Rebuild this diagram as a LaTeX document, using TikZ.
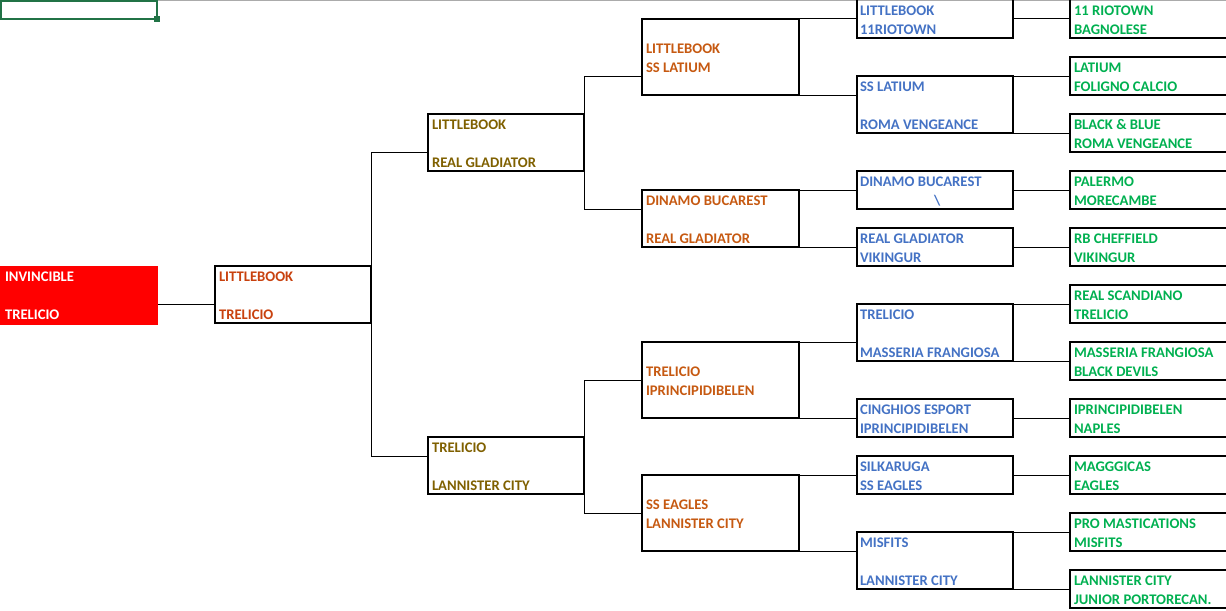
\documentclass[tikz,border=0pt]{standalone}
\usepackage{fontspec}
\setmainfont{Carlito}
\usetikzlibrary{calc}
\definecolor{cR}{HTML}{FF0000}
\definecolor{cLa}{HTML}{C8410E}
\definecolor{cLb}{HTML}{7F6000}
\definecolor{cLc}{HTML}{C65911}
\definecolor{cLd}{HTML}{4472C4}
\definecolor{cLe}{HTML}{00B050}
\definecolor{selgreen}{HTML}{217346}
\definecolor{gridgray}{HTML}{ABABAB}
\newcommand{\teambox}[5]{\node[tbox,minimum width=#4*0.75pt,minimum height=#5*0.75pt] (#1) at (#2,#3) {};}
\newcommand{\tline}[5]{\node[tlabel,text=#5] (#1) at (#2,#3) {#4};}
\begin{document}
\begin{tikzpicture}[x=0.75pt,y=-0.75pt,
  tbox/.style={draw=black,line width=1.5pt,anchor=north west,inner sep=0pt,outer sep=0pt},
  tlabel/.style={anchor=base west,inner sep=0pt,outer sep=0pt,font=\fontsize{11}{13}\selectfont\bfseries},
  conn/.style={draw=black,line width=0.75pt}]
\useasboundingbox (0,0) rectangle (1226,610);
\clip (0,0) rectangle (1226,610);
\draw[gridgray,line width=0.75pt] (158,0.5) -- (1226,0.5);
\draw[selgreen,line width=1.5pt] (1,1) rectangle (157,19.5);
\fill[selgreen] (154,16.5) rectangle (160,22);
% red box
\node[tbox,draw=none,fill=cR,minimum width=158*0.75pt,minimum height=59*0.75pt] (R) at (0,265.5) {};
% boxes
\teambox{L1}{215}{266}{156}{57}
\teambox{L2a}{428}{114}{156}{57}
\teambox{L2b}{428}{437}{156}{57}
\teambox{L3a}{642}{19}{157}{76}
\teambox{L3b}{642}{190}{157}{57}
\teambox{L3c}{642}{342}{157}{76}
\teambox{L3d}{642}{475}{157}{76}
\teambox{L4a}{857}{-3}{156}{41}
\teambox{L4b}{857}{76}{156}{57}
\teambox{L4c}{857}{171}{156}{38}
\teambox{L4d}{857}{228}{156}{38}
\teambox{L4e}{857}{304}{156}{57}
\teambox{L4f}{857}{399}{156}{38}
\teambox{L4g}{857}{456}{156}{38}
\teambox{L4h}{857}{532}{156}{57}
\teambox{L5a}{1070}{-3}{170}{41}
\teambox{L5b}{1070}{57}{170}{38}
\teambox{L5c}{1070}{114}{170}{38}
\teambox{L5d}{1070}{171}{170}{38}
\teambox{L5e}{1070}{228}{170}{38}
\teambox{L5f}{1070}{285}{170}{38}
\teambox{L5g}{1070}{342}{170}{38}
\teambox{L5h}{1070}{399}{170}{38}
\teambox{L5i}{1070}{456}{170}{38}
\teambox{L5j}{1070}{513}{170}{38}
\teambox{L5k}{1070}{570}{170}{38}
% connectors
\path ($(L1.south west)+(0,-19)$) coordinate (j0);
\draw[conn] (j0) -- (j0 -| R.east);
\path ($(L2a.south west)+(0,-19)$) coordinate (j1);
\draw[conn] (j1) -| (L1.east);
\path ($(L2b.north west)+(0,19)$) coordinate (j2);
\draw[conn] (j2) -| (L1.east);
\path ($(L3a.south west)+(0,-19)$) coordinate (j3);
\draw[conn] (j3) -| (L2a.east);
\path ($(L3b.north west)+(0,19)$) coordinate (j4);
\draw[conn] (j4) -| (L2a.east);
\path ($(L3c.south west)+(0,-38)$) coordinate (j5);
\draw[conn] (j5) -| (L2b.east);
\path ($(L3d.north west)+(0,38)$) coordinate (j6);
\draw[conn] (j6) -| (L2b.east);
\draw[conn] (L3a.north east) -- (L3a.north east -| L4a.west);
\draw[conn] (L3a.south east) -- (L3a.south east -| L4b.west);
\draw[conn] (L3b.north east) -- (L3b.north east -| L4c.west);
\draw[conn] (L3b.south east) -- (L3b.south east -| L4d.west);
\draw[conn] (L3c.north east) -- (L3c.north east -| L4e.west);
\draw[conn] (L3c.south east) -- (L3c.south east -| L4f.west);
\draw[conn] (L3d.north east) -- (L3d.north east -| L4g.west);
\draw[conn] (L3d.south east) -- (L3d.south east -| L4h.west);
\path ($(L4a.south east)+(0,-19)$) coordinate (j7);
\draw[conn] (j7) -- (j7 -| L5a.west);
\draw[conn] (L4b.north east) -- (L4b.north east -| L5b.west);
\draw[conn] (L4b.south east) -- (L4b.south east -| L5c.west);
\draw[conn] (L4c.east) -- (L5d.west);
\draw[conn] (L4d.east) -- (L5e.west);
\draw[conn] (L4e.north east) -- (L4e.north east -| L5f.west);
\draw[conn] (L4e.south east) -- (L4e.south east -| L5g.west);
\draw[conn] (L4f.east) -- (L5h.west);
\draw[conn] (L4g.east) -- (L5i.west);
\draw[conn] (L4h.north east) -- (L4h.north east -| L5j.west);
\draw[conn] (L4h.south east) -- (L4h.south east -| L5k.west);
% texts
\tline{tR1}{5}{281.2}{INVINCIBLE}{white}
\tline{tR2}{5}{319.2}{TRELICIO}{white}
\tline{t11}{219}{281.2}{LITTLEBOOK}{cLa}
\tline{t12}{219}{319.2}{TRELICIO}{cLa}
\tline{t2a1}{432}{129.2}{LITTLEBOOK}{cLb}
\tline{t2a2}{432}{167.2}{REAL GLADIATOR}{cLb}
\tline{t2b1}{432}{452.2}{TRELICIO}{cLb}
\tline{t2b2}{432}{490.2}{LANNISTER CITY}{cLb}
\tline{t3a1}{646}{53.2}{LITTLEBOOK}{cLc}
\tline{t3a2}{646}{72.2}{SS LATIUM}{cLc}
\tline{t3b1}{646}{205.2}{DINAMO BUCAREST}{cLc}
\tline{t3b2}{646}{243.2}{REAL GLADIATOR}{cLc}
\tline{t3c1}{646}{376.2}{TRELICIO}{cLc}
\tline{t3c2}{646}{395.2}{IPRINCIPIDIBELEN}{cLc}
\tline{t3d1}{646}{509.2}{SS EAGLES}{cLc}
\tline{t3d2}{646}{528.2}{LANNISTER CITY}{cLc}
\tline{t4a1}{860}{15.2}{LITTLEBOOK}{cLd}
\tline{t4a2}{860}{34.2}{11RIOTOWN}{cLd}
\tline{t4b1}{860}{91.2}{SS LATIUM}{cLd}
\tline{t4b2}{860}{129.2}{ROMA VENGEANCE}{cLd}
\tline{t4c1}{860}{186.2}{DINAMO BUCAREST}{cLd}
\tline{t4c2}{934}{205.2}{\textbackslash}{cLd}
\tline{t4d1}{860}{243.2}{REAL GLADIATOR}{cLd}
\tline{t4d2}{860}{262.2}{VIKINGUR}{cLd}
\tline{t4e1}{860}{319.2}{TRELICIO}{cLd}
\tline{t4e2}{860}{357.2}{MASSERIA FRANGIOSA}{cLd}
\tline{t4f1}{860}{414.2}{CINGHIOS ESPORT}{cLd}
\tline{t4f2}{860}{433.2}{IPRINCIPIDIBELEN}{cLd}
\tline{t4g1}{860}{471.2}{SILKARUGA}{cLd}
\tline{t4g2}{860}{490.2}{SS EAGLES}{cLd}
\tline{t4h1}{860}{547.2}{MISFITS}{cLd}
\tline{t4h2}{860}{585.2}{LANNISTER CITY}{cLd}
\tline{t5a1}{1074}{15.2}{11 RIOTOWN}{cLe}
\tline{t5a2}{1074}{34.2}{BAGNOLESE}{cLe}
\tline{t5b1}{1074}{72.2}{LATIUM}{cLe}
\tline{t5b2}{1074}{91.2}{FOLIGNO CALCIO}{cLe}
\tline{t5c1}{1074}{129.2}{BLACK \& BLUE}{cLe}
\tline{t5c2}{1074}{148.2}{ROMA VENGEANCE}{cLe}
\tline{t5d1}{1074}{186.2}{PALERMO}{cLe}
\tline{t5d2}{1074}{205.2}{MORECAMBE}{cLe}
\tline{t5e1}{1074}{243.2}{RB CHEFFIELD}{cLe}
\tline{t5e2}{1074}{262.2}{VIKINGUR}{cLe}
\tline{t5f1}{1074}{300.2}{REAL SCANDIANO}{cLe}
\tline{t5f2}{1074}{319.2}{TRELICIO}{cLe}
\tline{t5g1}{1074}{357.2}{MASSERIA FRANGIOSA}{cLe}
\tline{t5g2}{1074}{376.2}{BLACK DEVILS}{cLe}
\tline{t5h1}{1074}{414.2}{IPRINCIPIDIBELEN}{cLe}
\tline{t5h2}{1074}{433.2}{NAPLES}{cLe}
\tline{t5i1}{1074}{471.2}{MAGGGICAS}{cLe}
\tline{t5i2}{1074}{490.2}{EAGLES}{cLe}
\tline{t5j1}{1074}{528.2}{PRO MASTICATIONS}{cLe}
\tline{t5j2}{1074}{547.2}{MISFITS}{cLe}
\tline{t5k1}{1074}{585.2}{LANNISTER CITY}{cLe}
\tline{t5k2}{1074}{604.2}{JUNIOR PORTORECAN.}{cLe}
\end{tikzpicture}
\end{document}
